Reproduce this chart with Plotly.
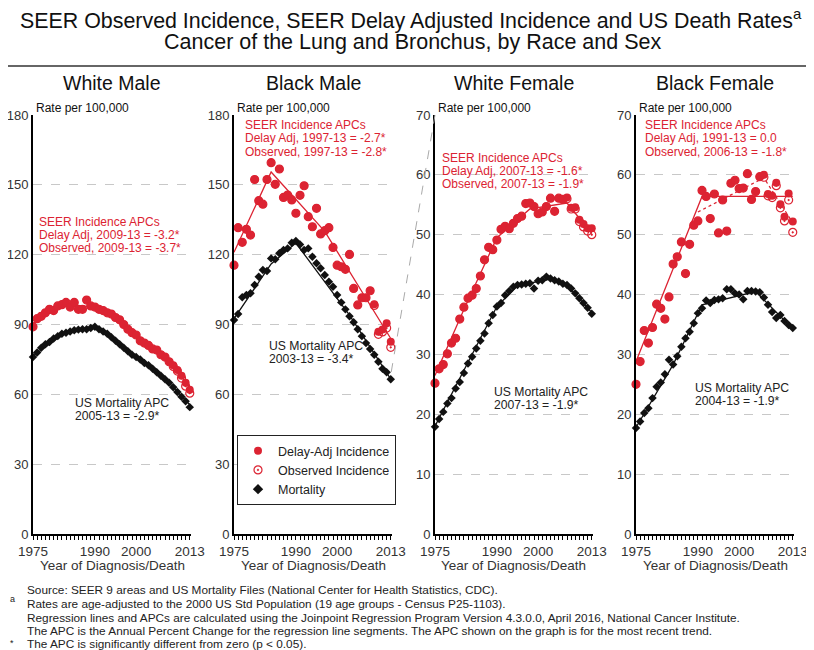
import plotly.graph_objects as go

years = list(range(1975, 2014))

# ---------------- data (rate per 100,000) ----------------
wm_delay = [89, 92.5, 93.5, 95, 96.5, 96, 98, 98.5, 99.5, 97.5, 99.5, 96.5, 96.5, 100.5, 98,
            97.5, 96.5, 96, 95, 94.5, 93, 92, 90, 88, 86.5, 85.5, 83, 82, 81, 79.5,
            79, 77, 76, 74, 72.5, 70.5, 68, 65, 62]
wm_obs = [89, 92.5, 93.5, 95, 96.5, 96, 98, 98.5, 99.5, 97.5, 99.5, 96.5, 96.5, 100.5, 98,
          97.5, 96.5, 96, 95, 94.5, 93, 92, 90, 88, 86.5, 85.5, 83, 82, 81, 79.5,
          79, 77, 76, 74, 72, 70, 67, 63.5, 60.5]
wm_mort = [76, 78, 80, 81.5, 82.5, 84, 85, 86, 86.5, 87, 87.5, 87.8, 88, 88, 88.5,
           89, 88, 87, 86, 84.5, 83, 81.5, 80, 78.5, 77, 76, 75, 73.5, 72.5, 71,
           69.5, 68, 66.5, 65, 63, 61, 59, 57, 54.5]

bm_delay = [115.5, 131.6, 125.3, 130.9, 128.4, 152.3, 143.2, 141.7, 152.3, 159.5, 150.2, 156.8,
            144.6, 145.6, 143.5, 137.8, 145.5, 149.6, 136.3, 132, 139.9, 128.9, 130.3, 131.6,
            123.1, 115.5, 114.8, 113.7, 120.1, 105.5, 98.4, 101.5, 101.5, 104.5, 98.7,
            86.9, 87.9, 90.5, 82.6]
bm_obs = [115.5, 131.6, 125.3, 130.9, 128.4, 152.3, 143.2, 141.7, 152.3, 159.5, 150.2, 156.8,
          144.6, 145.6, 143.5, 137.8, 145.5, 149.6, 136.3, 132, 139.9, 128.9, 130.3, 131.6,
          123.1, 115.5, 114.8, 113.7, 120.1, 105.5, 98.4, 101.5, 101.5, 104.5, 98.2,
          85.8, 86.8, 88.5, 80.2]
bm_mort = [91.9, 94.5, 101.7, 102.7, 103.4, 107, 110.5, 113.4, 113, 118.4, 118, 120.6, 122,
           122.7, 125.1, 125.9, 124.4, 122, 122.7, 119.1, 116.3, 114.2, 111.3, 108.4, 106.2,
           102.7, 99.5, 96.5, 93.5, 91, 88, 85, 82, 79.5, 77, 74, 71, 69.5, 66.5]

wf_delay = [25.2, 27.6, 28.3, 30.1, 31.9, 32.7, 35.9, 37.9, 39.4, 39.9, 41, 43.1, 45.8, 47.9,
            47.5, 49.1, 50.9, 51.4, 51, 51.9, 52.7, 53.1, 55.2, 55.3, 54.7, 53.5, 53.8, 54.7,
            56.1, 53.9, 56.1, 55.9, 56.2, 54.5, 54.6, 52.5, 51.8, 51.1, 51.1]
wf_obs = [25.2, 27.6, 28.3, 30.1, 31.9, 32.7, 35.9, 37.9, 39.4, 39.9, 41, 43.1, 45.8, 47.9,
          47.5, 49.1, 50.9, 51.4, 51, 51.9, 52.7, 53.1, 55.2, 55.3, 54.7, 53.5, 53.8, 54.7,
          56.1, 53.9, 56.1, 55.9, 56.0, 54.3, 54.3, 52.2, 51.3, 50.6, 50.0]
wf_mort = [17.9, 19.2, 20.4, 21.8, 22.7, 24.3, 25.4, 26.9, 28.5, 29.6, 31, 32.3, 33.5, 35.2,
           36.6, 38, 38.6, 39.9, 40.6, 41.3, 41.6, 41.7, 41.8, 41.9, 41.0, 42.3, 42.4, 43,
           42.7, 42.4, 42.2, 41.8, 41.6, 41, 40.2, 39.4, 38.6, 37.8, 36.8]

bf_delay = [25, 28.8, 34, 31.9, 34.5, 38.4, 37.7, 35.9, 39.6, 45.1, 46.3, 48.8, 43.5, 48.4,
            51.6, 52.3, 57.4, 56.4, 52.7, 56.8, 50.3, 55.8, 50.6, 58.6, 59.1, 57.7, 57.8,
            60.2, 55.9, 57.2, 59.7, 60, 56.8, 56.5, 58.7, 55.1, 53, 56.9, 52.2]
bf_obs = [25, 28.8, 34, 31.9, 34.5, 38.4, 37.7, 35.9, 39.6, 45.1, 46.3, 48.8, 43.5, 48.4,
          51.6, 52.3, 57.4, 56.4, 52.7, 56.8, 50.3, 55.8, 50.6, 58.6, 59.1, 57.7, 57.8,
          60.2, 55.9, 57.2, 59.7, 59.6, 56.5, 56.2, 58.2, 54.5, 52.3, 55.8, 50.4]
bf_mort = [17.7, 18.8, 20.2, 21, 22.7, 24.6, 25.3, 26.7, 29.1, 28.3, 29.7, 31.3, 32.7, 33.8,
           35.2, 36.9, 37.7, 39, 38.6, 39.1, 39.2, 39.4, 40.9, 40.9, 40.2, 40, 39.2, 40.6,
           40.6, 40.5, 40.4, 39.5, 38.3, 37.1, 36.1, 36.6, 35.6, 34.9, 34.4]

# joinpoint regression fits (joinpoint years and fitted values)
wm_delay_fit_x = [1975, 1982, 1991, 2009, 2013]
wm_delay_fit_y = [90.5, 98.5, 97.5, 72, 63]
wm_mort_fit_x = [1975, 1982, 1990, 2005, 2013]
wm_mort_fit_y = [76.5, 85.5, 88.8, 70.5, 55.5]
bm_delay_fit_x = [1975, 1984, 1997, 2013]
bm_delay_fit_y = [121, 155.5, 130, 84]
bm_mort_fit_x = [1975, 1984, 1990, 2003, 2013]
bm_mort_fit_y = [92.5, 116, 125, 94, 66.5]
wf_delay_fit_x = [1975, 1982, 1990, 1998, 2007, 2013]
wf_delay_fit_y = [26.5, 37.5, 49.5, 54.3, 55.3, 50.2]
wf_mort_fit_x = [1975, 1990, 1995, 2003, 2007, 2013]
wf_mort_fit_y = [18, 38, 41.5, 42.6, 41.6, 37]
bf_delay_fit_x = [1975, 1991, 2013]
bf_delay_fit_y = [28.8, 56.4, 56.4]
bf_obs_fit_x = [1990, 2006, 2013]
bf_obs_fit_y = [53.8, 59.5, 52.0]
bf_mort_fit_x = [1975, 1984, 1991, 2004, 2013]
bf_mort_fit_y = [17.8, 28.3, 38.3, 40.5, 34.3]

panel_titles = ["White Male", "Black Male", "White Female", "Black Female"]
x_tick_labels = {1975: "1975", 1990: "1990", 2000: "2000", 2013: "2013"}

inc_lines = [
    ["SEER Incidence APCs", "Delay Adj, 2009-13 = -3.2*", "Observed, 2009-13 = -3.7*"],
    ["SEER Incidence APCs", "Delay Adj, 1997-13 = -2.7*", "Observed, 1997-13 = -2.8*"],
    ["SEER Incidence APCs", "Delay Adj, 2007-13 = -1.6*", "Observed, 2007-13 = -1.9*"],
    ["SEER Incidence APCs", "Delay Adj, 1991-13 = 0.0", "Observed, 2006-13 = -1.8*"],
]
mort_lines = [
    ["US Mortality APC", "2005-13 = -2.9*"],
    ["US Mortality APC", "2003-13 = -3.4*"],
    ["US Mortality APC", "2007-13 = -1.9*"],
    ["US Mortality APC", "2004-13 = -1.9*"],
]

# ---------------- styling ----------------
RED = "#dc2332"
BLACK = "#111111"
FONT = "Liberation Sans, Arial, Helvetica, sans-serif"

OFF = 8                      # page offset of the figure (body margin)
W, H = 814 - OFF, 650 - OFF
ML, MR, MT, MB = 25, 20, 107, 116
PW = W - ML - MR
PH = H - MT - MB

def px_x(p):
    """page pixel x -> paper coordinate"""
    return (p - OFF - ML) / PW

def px_y(p):
    """page pixel y -> paper coordinate"""
    return (H - MB - (p - OFF)) / PH

panel_left = [33, 234, 435, 636]
panel_w = 158
domains = [[max(0.0, px_x(l)), min(1.0, px_x(l + panel_w))] for l in panel_left]

fig = go.Figure()

panels = [
    (wm_delay, wm_obs, wm_mort, wm_delay_fit_x, wm_delay_fit_y, wm_mort_fit_x, wm_mort_fit_y, None, None),
    (bm_delay, bm_obs, bm_mort, bm_delay_fit_x, bm_delay_fit_y, bm_mort_fit_x, bm_mort_fit_y, None, None),
    (wf_delay, wf_obs, wf_mort, wf_delay_fit_x, wf_delay_fit_y, wf_mort_fit_x, wf_mort_fit_y, None, None),
    (bf_delay, bf_obs, bf_mort, bf_delay_fit_x, bf_delay_fit_y, bf_mort_fit_x, bf_mort_fit_y, bf_obs_fit_x, bf_obs_fit_y),
]
yranges = [180, 180, 70, 70]
ysteps = [30, 30, 10, 10]

# page-pixel anchor positions for the text blocks (x start, y centres of lines)
inc_pos = [(37, [222, 235, 248]), (243, [125, 138.3, 151.7]),
           (440, [157.7, 171, 184.3]), (643, [125, 138.3, 151.7])]
mort_pos = [(73, [402.7, 416]), (266.7, [345.7, 359]),
            (491.7, [391.7, 404.5]), (692.7, [387.7, 401])]

layout_axes = {}
annotations = []
for i, (dl, ob, mo, dfx, dfy, mfx, mfy, ofx, ofy) in enumerate(panels):
    n = i + 1
    xa = "x" if n == 1 else f"x{n}"
    ya = "y" if n == 1 else f"y{n}"
    # regression lines
    fig.add_trace(go.Scatter(x=mfx, y=mfy, mode="lines", line=dict(color=BLACK, width=1.3),
                             xaxis=xa, yaxis=ya, showlegend=False, hoverinfo="skip"))
    fig.add_trace(go.Scatter(x=dfx, y=dfy, mode="lines", line=dict(color=RED, width=1.3),
                             xaxis=xa, yaxis=ya, showlegend=False, hoverinfo="skip"))
    if ofx is not None:
        fig.add_trace(go.Scatter(x=ofx, y=ofy, mode="lines", line=dict(color=RED, width=1.3, dash="dot"),
                                 xaxis=xa, yaxis=ya, showlegend=False, hoverinfo="skip"))
    # points
    fig.add_trace(go.Scatter(x=years, y=mo, mode="markers", name="Mortality",
                             marker=dict(symbol="diamond", size=6.5, color=BLACK),
                             xaxis=xa, yaxis=ya, showlegend=False, cliponaxis=False))
    fig.add_trace(go.Scatter(x=years, y=ob, mode="markers", name="Observed Incidence",
                             marker=dict(symbol="circle-open-dot", size=8, color=RED, line=dict(width=1.2)),
                             xaxis=xa, yaxis=ya, showlegend=False, cliponaxis=False))
    fig.add_trace(go.Scatter(x=years, y=dl, mode="markers", name="Delay-Adj Incidence",
                             marker=dict(symbol="circle", size=8, color=RED),
                             xaxis=xa, yaxis=ya, showlegend=False, cliponaxis=False))

    key_x = "xaxis" if n == 1 else f"xaxis{n}"
    key_y = "yaxis" if n == 1 else f"yaxis{n}"
    layout_axes[key_x] = dict(
        domain=domains[i], anchor=ya, range=[1975, 2013.3], automargin=False,
        tickvals=years, ticktext=[x_tick_labels.get(yr, "") for yr in years],
        ticks="outside", ticklen=4, tickwidth=1, tickcolor="black",
        showline=True, linecolor="black", linewidth=2, showgrid=False, zeroline=False,
        tickfont=dict(size=13.5, color="#333", family=FONT), tickangle=0,
    )
    layout_axes[key_y] = dict(
        domain=[0, 1], anchor=xa, range=[0, yranges[i]], automargin=False,
        tickvals=list(range(0, yranges[i] + 1, ysteps[i])),
        showgrid=True, gridcolor="#c8c8c8", griddash="dash", gridwidth=1,
        showline=True, linecolor="black", linewidth=2, zeroline=False, ticks="",
        tickfont=dict(size=13, color="#333", family=FONT),
    )
    cx = panel_left[i] + panel_w / 2
    annotations.append(dict(text=panel_titles[i], xref="paper", yref="paper", x=px_x(cx), y=px_y(83),
                            xanchor="center", yanchor="middle", showarrow=False,
                            font=dict(size=19.5, color="#111", family=FONT)))
    annotations.append(dict(text="Year of Diagnosis/Death", xref="paper", yref="paper", x=px_x(cx), y=px_y(565),
                            xanchor="center", yanchor="middle", showarrow=False,
                            font=dict(size=13.5, color="#333", family=FONT)))
    annotations.append(dict(text="Rate per 100,000", xref="paper", yref="paper",
                            x=px_x(panel_left[i] + 1), y=px_y(108),
                            xanchor="left", yanchor="middle", showarrow=False,
                            font=dict(size=12, color="#111", family=FONT)))
    ix, iys = inc_pos[i]
    for txt, yy in zip(inc_lines[i], iys):
        annotations.append(dict(text=txt, xref="paper", yref="paper", x=px_x(ix), y=px_y(yy),
                                xanchor="left", yanchor="middle", showarrow=False,
                                font=dict(size=12, color=RED, family=FONT)))
    mx, mys = mort_pos[i]
    for txt, yy in zip(mort_lines[i], mys):
        annotations.append(dict(text=txt, xref="paper", yref="paper", x=px_x(mx), y=px_y(yy),
                                xanchor="left", yanchor="middle", showarrow=False,
                                font=dict(size=12.2, color="#222", family=FONT)))

# legend entries styled like the figure's legend
fig.add_trace(go.Scatter(x=[None], y=[None], mode="markers", name="Delay-Adj Incidence",
                         marker=dict(symbol="circle", size=8, color=RED),
                         xaxis="x2", yaxis="y2"))
fig.add_trace(go.Scatter(x=[None], y=[None], mode="markers", name="Observed Incidence",
                         marker=dict(symbol="circle-open-dot", size=8, color=RED, line=dict(width=1.2)),
                         xaxis="x2", yaxis="y2"))
fig.add_trace(go.Scatter(x=[None], y=[None], mode="markers", name="Mortality",
                         marker=dict(symbol="diamond", size=8, color=BLACK),
                         xaxis="x2", yaxis="y2"))

# main title
annotations.append(dict(text="SEER Observed Incidence, SEER Delay Adjusted Incidence and US Death Rates<sup>a</sup>",
                        xref="paper", yref="paper", x=px_x(411), y=px_y(19), xanchor="center", yanchor="middle",
                        showarrow=False, font=dict(size=21.4, color="#111", family=FONT)))
annotations.append(dict(text="Cancer of the Lung and Bronchus, by Race and Sex",
                        xref="paper", yref="paper", x=px_x(412), y=px_y(42), xanchor="center", yanchor="middle",
                        showarrow=False, font=dict(size=21.5, color="#111", family=FONT)))

foot = [
    (25, 590, "Source: SEER 9 areas and US Mortality Files (National Center for Health Statistics, CDC)."),
    (25, 604, "Rates are age-adjusted to the 2000 US Std Population (19 age groups - Census P25-1103)."),
    (25, 617.5, "Regression lines and APCs are calculated using the Joinpoint Regression Program Version 4.3.0.0, April 2016, National Cancer Institute."),
    (25, 630.5, "The APC is the Annual Percent Change for the regression line segments. The APC shown on the graph is for the most recent trend."),
    (25, 643.5, "The APC is significantly different from zero (p < 0.05)."),
    (8, 599, "a"),
    (8, 643, "*"),
]
for fx, fy, ft in foot:
    annotations.append(dict(text=ft, xref="paper", yref="paper", x=px_x(fx), y=px_y(fy),
                            xanchor="left", yanchor="middle", showarrow=False,
                            font=dict(size=11.8 if len(ft) > 1 else 9, color="#222", family=FONT)))

shapes = [
    dict(type="line", xref="paper", yref="paper", x0=px_x(0), x1=px_x(814), y0=px_y(66), y1=px_y(66),
         line=dict(color="#333", width=1.5)),
    dict(type="line", xref="paper", yref="paper", x0=domains[1][1] - 0.001, y0=px_y(372),
         x1=domains[2][0], y1=1, line=dict(color="#aaa", width=1, dash="dash")),
]

fig.update_layout(
    width=W, height=H, margin=dict(l=ML, r=MR, t=MT, b=MB, autoexpand=False),
    plot_bgcolor="white", paper_bgcolor="white",
    font=dict(family=FONT, color="#111"),
    annotations=annotations, shapes=shapes,
    legend=dict(x=px_x(237), y=px_y(435), xanchor="left", yanchor="top",
                bordercolor="#222", borderwidth=1, bgcolor="white",
                font=dict(size=12.5, color="#222", family=FONT), tracegroupgap=2),
    **layout_axes,
)

fig.write_html("out.html")
